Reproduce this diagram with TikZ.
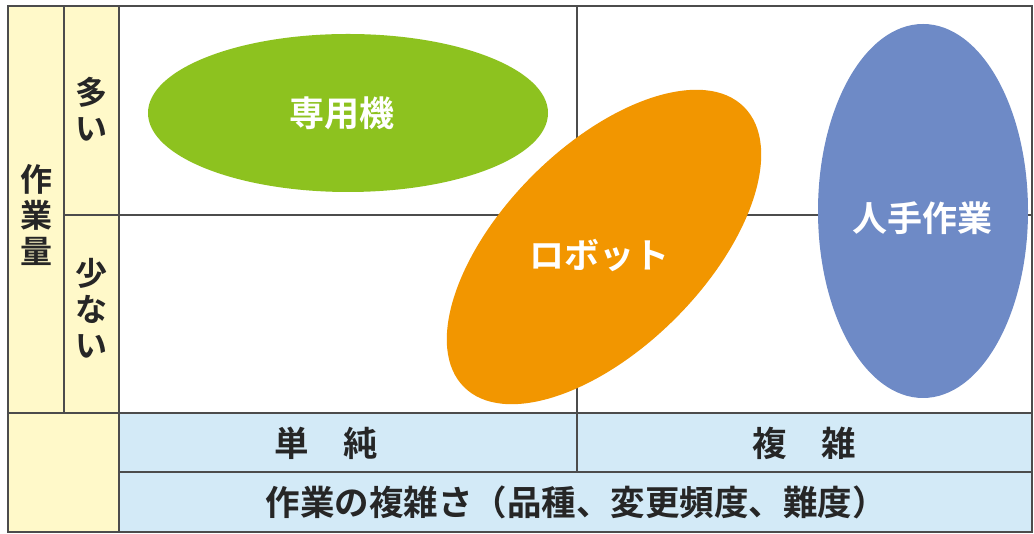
\documentclass[tikz,border=0pt]{standalone}
\usepackage{fontspec}
\setmainfont{Noto Sans CJK JP}[BoldFont={* Bold}]
\begin{document}
\begin{tikzpicture}[x=1pt,y=1pt,
  grid/.style={draw=black!70,line width=1.1pt},
  lbl/.style={font=\bfseries\fontsize{32}{36}\selectfont,text=black!85,inner sep=0pt,align=center},
  hlbl/.style={font=\bfseries\fontsize{34.5}{38}\selectfont,text=black!85,inner sep=0pt},
  inlbl/.style={font=\bfseries\fontsize{35}{38}\selectfont,text=white,inner sep=0pt}]
\definecolor{cream}{HTML}{FFF9C9}
\definecolor{paleblue}{HTML}{D3EAF7}
\definecolor{leaf}{HTML}{8DC21F}
\definecolor{amber}{HTML}{F29600}
\definecolor{slate}{HTML}{6E8AC6}
\useasboundingbox (0,0) rectangle (1034,534);
% backgrounds
\fill[cream] (8,2) rectangle (119,528);
\fill[paleblue] (119,2) rectangle (1032,121);
\fill[white] (119,121) rectangle (1032,528);
% grid lines
\draw[grid] (8,2) rectangle (1032,528);
\draw[grid] (64,121) -- (64,528);
\draw[grid] (119,2) -- (119,528);
\draw[grid] (64,319) -- (1032,319);
\draw[grid] (8,121) -- (1032,121);
\draw[grid] (119,62) -- (1032,62);
\draw[grid] (577,62) -- (577,528);
% ellipses
\fill[leaf] (348,421) ellipse[x radius=200,y radius=79];
\fill[amber,rotate around={45:(604,287)}] (604,287) ellipse[x radius=198,y radius=101];
\fill[slate] (923,323) ellipse[x radius=105,y radius=187];
% labels inside
\node[inlbl] (sen) at (342,421) {専用機};
\node[inlbl] (rob) at (599,279) {ロボット};
\node[inlbl] (hit) at (922,316) {人手作業};
% axis labels
\node[lbl] (vol) at (36,319) {作\\業\\量};
\node[lbl] (many) at (91,425) {多\\い};
\node[lbl] (few) at (91,226) {少\\な\\い};
\node[hlbl] (simple) at (326,91) {単　純};
\node[hlbl] (complex) at (804,91) {複　雑};
\node[hlbl] (axis) at (576,32) {作業の複雑さ（品種、変更頻度、難度）};
\end{tikzpicture}
\end{document}
